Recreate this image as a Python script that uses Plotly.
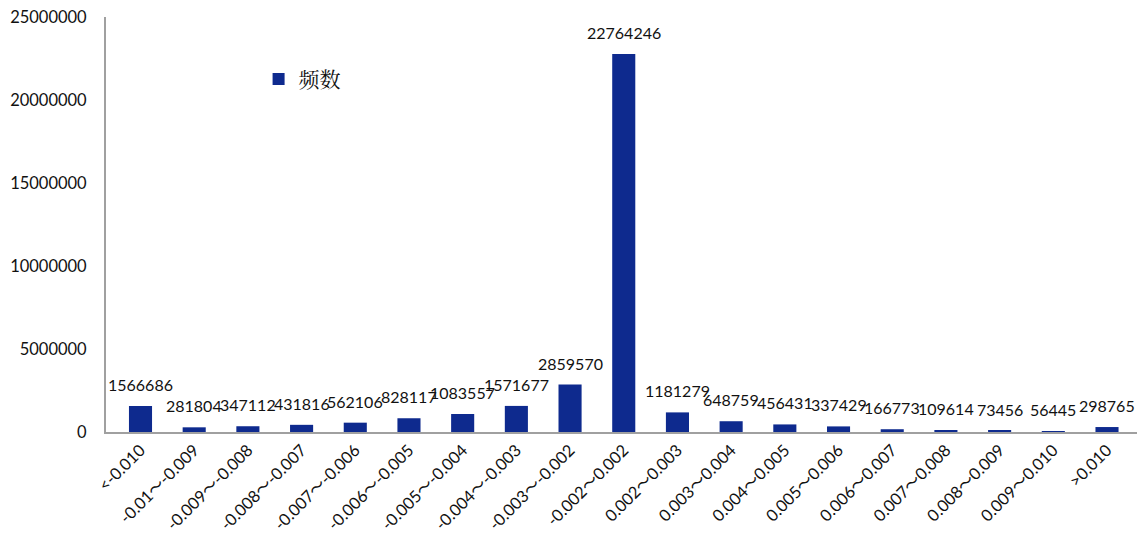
import plotly.graph_objects as go

categories = ["<-0.010", "-0.01～-0.009", "-0.009～-0.008", "-0.008～-0.007", "-0.007～-0.006",
              "-0.006～-0.005", "-0.005～-0.004", "-0.004～-0.003", "-0.003～-0.002", "-0.002～0.002",
              "0.002～0.003", "0.003～0.004", "0.004～0.005", "0.005～0.006", "0.006～0.007",
              "0.007～0.008", "0.008～0.009", "0.009～0.010", ">0.010"]
counts = [1566686, 281804, 347112, 431816, 562106, 828117, 1083557, 1571677, 2859570, 22764246,
          1181279, 648759, 456431, 337429, 166773, 109614, 73456, 56445, 298765]
y_ticks = [0, 5000000, 10000000, 15000000, 20000000, 25000000]

BAR = "#0E2A8E"
FONT = "Lato, 'Noto Sans CJK SC', sans-serif"

fig = go.Figure()
fig.add_trace(go.Bar(x=categories, y=counts, name="频数", marker=dict(color=BAR, line=dict(width=0)),
                     width=0.43, cliponaxis=False))

for c, v in zip(categories, counts):
    fig.add_annotation(x=c, y=v, text=str(v), showarrow=False, yanchor="bottom", yshift=10,
                       font=dict(size=16, color="#111111", family=FONT))

fig.update_layout(
    width=1146, height=540,
    margin=dict(l=106, r=9, t=17, b=108),
    plot_bgcolor="white", paper_bgcolor="white",
    font=dict(family=FONT, size=16.5, color="#111111"),
    showlegend=True,
    legend=dict(x=0.148, y=0.85, xanchor="left", yanchor="middle", bgcolor="rgba(0,0,0,0)",
                font=dict(size=21, family="'Noto Serif CJK SC', 'Noto Sans CJK SC', serif")),
)
fig.update_xaxes(type="category", tickangle=-45, showline=True, linecolor="#A0A0A0", linewidth=2,
                 ticks="", showgrid=False, tickfont=dict(size=16.5, family=FONT), automargin=False)
fig.update_yaxes(range=[0, 25000000], tickvals=y_ticks, ticktext=[str(t) for t in y_ticks],
                 showline=True, linecolor="#A0A0A0", linewidth=2, showgrid=False, zeroline=False,
                 ticks="", tickfont=dict(size=16.5, family=FONT), ticklabelstandoff=14, automargin=False,
                 ticklabeloverflow="allow")

fig.write_html("out.html", config={"displayModeBar": False},
               post_script="document.body.style.margin='0';")
